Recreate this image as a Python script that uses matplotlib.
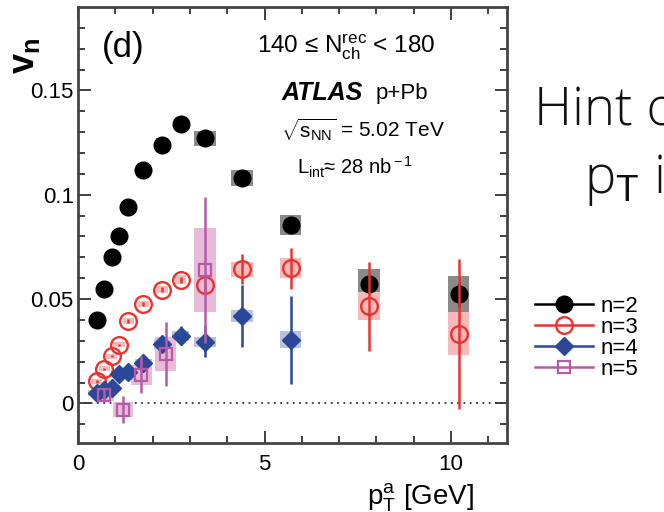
import numpy as np
import matplotlib
matplotlib.use("Agg")
import matplotlib.pyplot as plt
from matplotlib.patches import Rectangle
from matplotlib.lines import Line2D

plt.rcParams['font.family'] = ['Liberation Sans', 'DejaVu Sans']
plt.rcParams['mathtext.fontset'] = 'custom'
plt.rcParams['mathtext.rm'] = 'Liberation Sans'
plt.rcParams['mathtext.it'] = 'Liberation Sans:italic'
plt.rcParams['mathtext.bf'] = 'Liberation Sans:bold'

# data
pt = [0.5, 0.7, 0.9, 1.1, 1.35, 1.75, 2.25, 2.75, 3.4, 4.4, 5.7, 7.8, 10.2]
v2 = [0.040, 0.055, 0.070, 0.080, 0.094, 0.112, 0.124, 0.134, 0.127, 0.108, 0.0855, 0.0573, 0.0522]
v2_stat = [0.0005, 0.0005, 0.0005, 0.0005, 0.0005, 0.0005, 0.0005, 0.0006, 0.0008, 0.001, 0.002, 0.004, 0.006]
v2_sys = [0.002, 0.002, 0.002, 0.002, 0.002, 0.0025, 0.003, 0.003, 0.0035, 0.0037, 0.0048, 0.0069, 0.009]

v3 = [0.0105, 0.0165, 0.0225, 0.028, 0.0395, 0.0475, 0.0545, 0.0593, 0.0568, 0.0644, 0.0648, 0.0466, 0.0334]
v3_stat = [0.0005, 0.0005, 0.0005, 0.0006, 0.0008, 0.001, 0.0012, 0.0015, 0.004, 0.007, 0.0098, 0.0214, 0.036]
v3_sys = [0.0012, 0.0012, 0.0012, 0.0012, 0.0015, 0.0015, 0.0018, 0.002, 0.003, 0.0036, 0.0048, 0.0068, 0.0103]

pt4 = pt[:11]
v4 = [0.005, 0.0065, 0.0075, 0.014, 0.015, 0.0195, 0.0284, 0.0324, 0.0296, 0.0418, 0.0305]
v4_stat = [0.001, 0.001, 0.001, 0.0015, 0.0015, 0.003, 0.0038, 0.0045, 0.0076, 0.015, 0.021]
v4_sys = [0.0015, 0.0015, 0.0015, 0.0015, 0.0015, 0.002, 0.0025, 0.0025, 0.0024, 0.0029, 0.0042]

pt5 = [0.7, 1.2, 1.7, 2.35, 3.4]
v5 = [0.0042, -0.003, 0.0138, 0.0236, 0.064]
v5_stat = [0.003, 0.0064, 0.0088, 0.0152, 0.035]
v5_sys = [0.003, 0.0035, 0.0048, 0.008, 0.020]

labels = ['n=2', 'n=3', 'n=4', 'n=5']
colors = ['black', '#e8332e', '#2b4898', '#b45aa6']
boxcolors = ['#8a8a8a', '#f6baba', '#bcc2de', '#e8bcd8']

fig = plt.figure(figsize=(6.64, 5.12), dpi=100)
ax = fig.add_axes([78/664, 1-443/512, 429/664, 436/512])

def draw_boxes(x, y, sy, col, w_low, z):
    for xi, yi, si in zip(x, y, sy):
        w = 0.58 if xi >= 3.0 else w_low
        ax.add_patch(Rectangle((xi - w/2, yi - si), w, 2*si, facecolor=col,
                               edgecolor='none', zorder=z))

draw_boxes(pt, v2, v2_sys, boxcolors[0], 0.3, 1.1)
draw_boxes(pt, v3, v3_sys, boxcolors[1], 0.3, 1.2)
draw_boxes(pt4, v4, v4_sys, boxcolors[2], 0.45, 1.3)
draw_boxes(pt5, v5, v5_sys, boxcolors[3], 0.55, 1.4)

ax.axhline(0, color='#333333', lw=1.3, ls=(0, (1, 2.5)), zorder=1)

ax.errorbar(pt, v2, yerr=v2_stat, fmt='o', color=colors[0], ms=12, mec=colors[0],
            elinewidth=1.8, capsize=0, zorder=3)
ax.errorbar(pt, v3, yerr=v3_stat, fmt='o', color=colors[1], ms=12, mfc='none',
            mec=colors[1], mew=1.7, elinewidth=1.8, capsize=0, zorder=4)
ax.errorbar(pt4, v4, yerr=v4_stat, fmt='D', color=colors[2], ms=9, mec=colors[2],
            elinewidth=1.8, capsize=0, zorder=5)
ax.errorbar(pt5, v5, yerr=v5_stat, fmt='s', color=colors[3], ms=8, mfc='none',
            mec=colors[3], mew=1.6, elinewidth=1.8, capsize=0, zorder=6)

ax.set_xlim(0, 11.5)
ax.set_ylim(-0.019, 0.19)
ax.set_xticks([0, 5, 10])
ax.set_xticklabels(['0', '5', '10'])
ax.set_xticks(np.arange(0, 11.5, 1), minor=True)
ax.set_yticks([0, 0.05, 0.1, 0.15])
ax.set_yticklabels(['0', '0.05', '0.1', '0.15'])
ax.set_yticks(np.arange(-0.01, 0.19, 0.01), minor=True)
ax.tick_params(which='both', direction='in', top=True, right=True,
               labelsize=16, width=1.3, color='#333333')
ax.tick_params(which='major', length=9)
ax.tick_params(which='minor', length=5)
ax.tick_params(axis='x', pad=8)
ax.tick_params(axis='y', pad=3)
for s in ax.spines.values():
    s.set_linewidth(2)
    s.set_color('#444444')

def ftext(x, y, s, **kw):
    kw.setdefault('va', 'center')
    fig.text(x/664, 1 - y/512, s, **kw)

# axis titles
ftext(24, 56, r'$\mathbf{v_n}$', fontsize=26, rotation=90, ha='center')
ftext(421, 505, r'p$_{\rm T}^{\rm a}$ [GeV]', fontsize=20, ha='center', va='baseline')

ftext(102, 48, '(d)', fontsize=25)
ftext(257, 47, r'140 ≤ N$_{\rm ch}^{\rm rec}$ < 180', fontsize=17.5)
ftext(282, 93, 'ATLAS', fontsize=18, fontweight='bold', fontstyle='italic')
ftext(376, 93, 'p+Pb', fontsize=16)
ftext(281, 130, r'$\sqrt{\rm s_{NN}}$ = 5.02 TeV', fontsize=15)
ftext(297, 167, r'L$_{\rm int}$≈ 28 nb$^{\rm -1}$', fontsize=14.5)

ftext(534, 112, 'Hint o', fontsize=38, family=['Open Sans', 'DejaVu Sans'], fontweight='light', color='#111111')
ftext(584, 180, r'p$_{\rm T}$ in', fontsize=38, family=['Open Sans', 'DejaVu Sans'], fontweight='light', color='#111111')

handles = [
    Line2D([], [], color=colors[0], marker='o', ms=12, lw=1.8),
    Line2D([], [], color=colors[1], marker='o', ms=12, mfc='none', mew=1.7, lw=1.8),
    Line2D([], [], color=colors[2], marker='D', ms=9, lw=1.8),
    Line2D([], [], color=colors[3], marker='s', ms=8, mfc='none', mew=1.6, lw=1.8),
]
fig.legend(handles, labels, loc='upper left', bbox_to_anchor=(526/664, 1 - 287/512),
           frameon=False, fontsize=16, handlelength=2.6, handletextpad=0.35,
           labelspacing=0.0, borderaxespad=0)

fig.savefig('out.png', dpi=100)
